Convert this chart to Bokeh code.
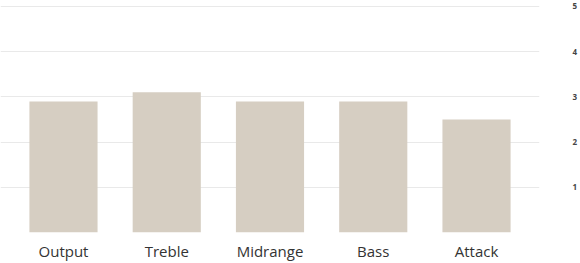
from bokeh.plotting import figure
from bokeh.models import FactorRange, Range1d, FixedTicker
from bokeh.embed import file_html
from bokeh.resources import INLINE

categories = ["Output", "Treble", "Midrange", "Bass", "Attack"]
values = [2.9, 3.1, 2.9, 2.9, 2.5]
y_ticks = [0, 1, 2, 3, 4, 5]
y_labels = {0: "", 1: "1", 2: "2", 3: "3", 4: "4", 5: "5"}

p = figure(x_range=FactorRange(factors=categories, range_padding=0.11, range_padding_units="absolute"),
           y_range=Range1d(0, 5.132),
           width=580, height=263,
           output_backend="svg", toolbar_location=None,
           min_border_left=0, min_border_top=0, min_border_right=39, min_border_bottom=30,
           y_axis_location="right")
p.outline_line_color = None
p.background_fill_color = "white"
p.border_fill_color = "white"

p.vbar(x=categories, top=values, width=0.66, fill_color="#d6cec2", line_color=None)

xa = p.xaxis[0]
xa.axis_line_color = None
xa.major_tick_line_color = None
xa.minor_tick_line_color = None
xa.major_tick_out = 0
xa.major_label_standoff = 8
xa.major_label_text_font = "Open Sans"
xa.major_label_text_font_size = "15px"
xa.major_label_text_color = "#333333"

ya = p.yaxis[0]
ya.ticker = FixedTicker(ticks=y_ticks)
ya.major_label_overrides = y_labels
ya.axis_line_color = None
ya.major_tick_line_color = None
ya.minor_tick_line_color = None
ya.major_tick_out = 0
ya.major_label_standoff = 33
ya.major_label_text_font = "Open Sans"
ya.major_label_text_font_size = "8px"
ya.major_label_text_font_style = "bold"
ya.major_label_text_color = "#444444"

p.xgrid.grid_line_color = None
p.ygrid.grid_line_color = "#e9e9e9"
p.ygrid.grid_line_width = 1

open("out.html", "w").write(file_html(p, INLINE))
